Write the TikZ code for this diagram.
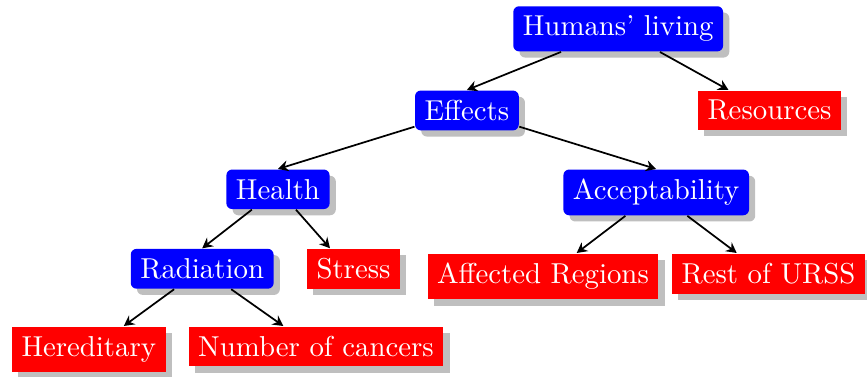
\documentclass[tikz,border=0pt]{standalone}
\usetikzlibrary{shadows,calc,arrows.meta}
\tikzset{
  basebox/.style={text=white, font=\normalsize, inner sep=3.333pt, anchor=north,
    drop shadow={fill=black!25, opacity=1}},
  bluebox/.style={basebox, fill=blue, rounded corners=2pt},
  redbox/.style={basebox, fill=red},
  conn/.style={-{Stealth[length=3.6pt,width=3.8pt,inset=1.2pt]}, semithick},
}
\begin{document}
\begin{tikzpicture}[x=0.3472pt, y=-0.3472pt]
\useasboundingbox (0,0) rectangle (867,377);
\node[bluebox] (humans) at (618.2,5.7) {Humans' living};
\node[bluebox] (effects) at (466.9,90) {Effects};
\node[redbox] (resources) at (769.5,90) {Resources};
\node[bluebox] (health) at (278,169) {Health};
\node[bluebox] (accept) at (656.2,169) {Acceptability};
\node[bluebox] (radiation) at (202.2,248.3) {Radiation};
\node[redbox] (stress) at (353.5,248.3) {Stress};
\node[redbox] (affected) at (543,253) {Affected Regions};
\node[redbox] (rest) at (768.5,253) {Rest of URSS};
\node[redbox] (hered) at (88.8,326) {Hereditary};
\node[redbox] (cancers) at (316,326) {Number of cancers};

\coordinate (resources-in) at ($(resources.north)+(-41,0)$);
\coordinate (stress-in) at ($(stress.north)+(-23.5,0)$);
\coordinate (hered-in) at ($(hered.north)+(35,0)$);
\coordinate (cancers-in) at ($(cancers.north)+(-32.7,0)$);
\coordinate (affected-in) at ($(affected.north)+(33.7,0)$);
\coordinate (rest-in) at ($(rest.north)+(-31.8,0)$);

\draw[conn] (humans) -- (effects.north);
\draw[conn] (humans) -- (resources-in);
\draw[conn] (effects) -- (health.north);
\draw[conn] (effects) -- (accept.north);
\draw[conn] (health) -- (radiation.north);
\draw[conn] (health) -- (stress-in);
\draw[conn] (radiation) -- (hered-in);
\draw[conn] (radiation) -- (cancers-in);
\draw[conn] (accept) -- (affected-in);
\draw[conn] (accept) -- (rest-in);
\end{tikzpicture}
\end{document}
